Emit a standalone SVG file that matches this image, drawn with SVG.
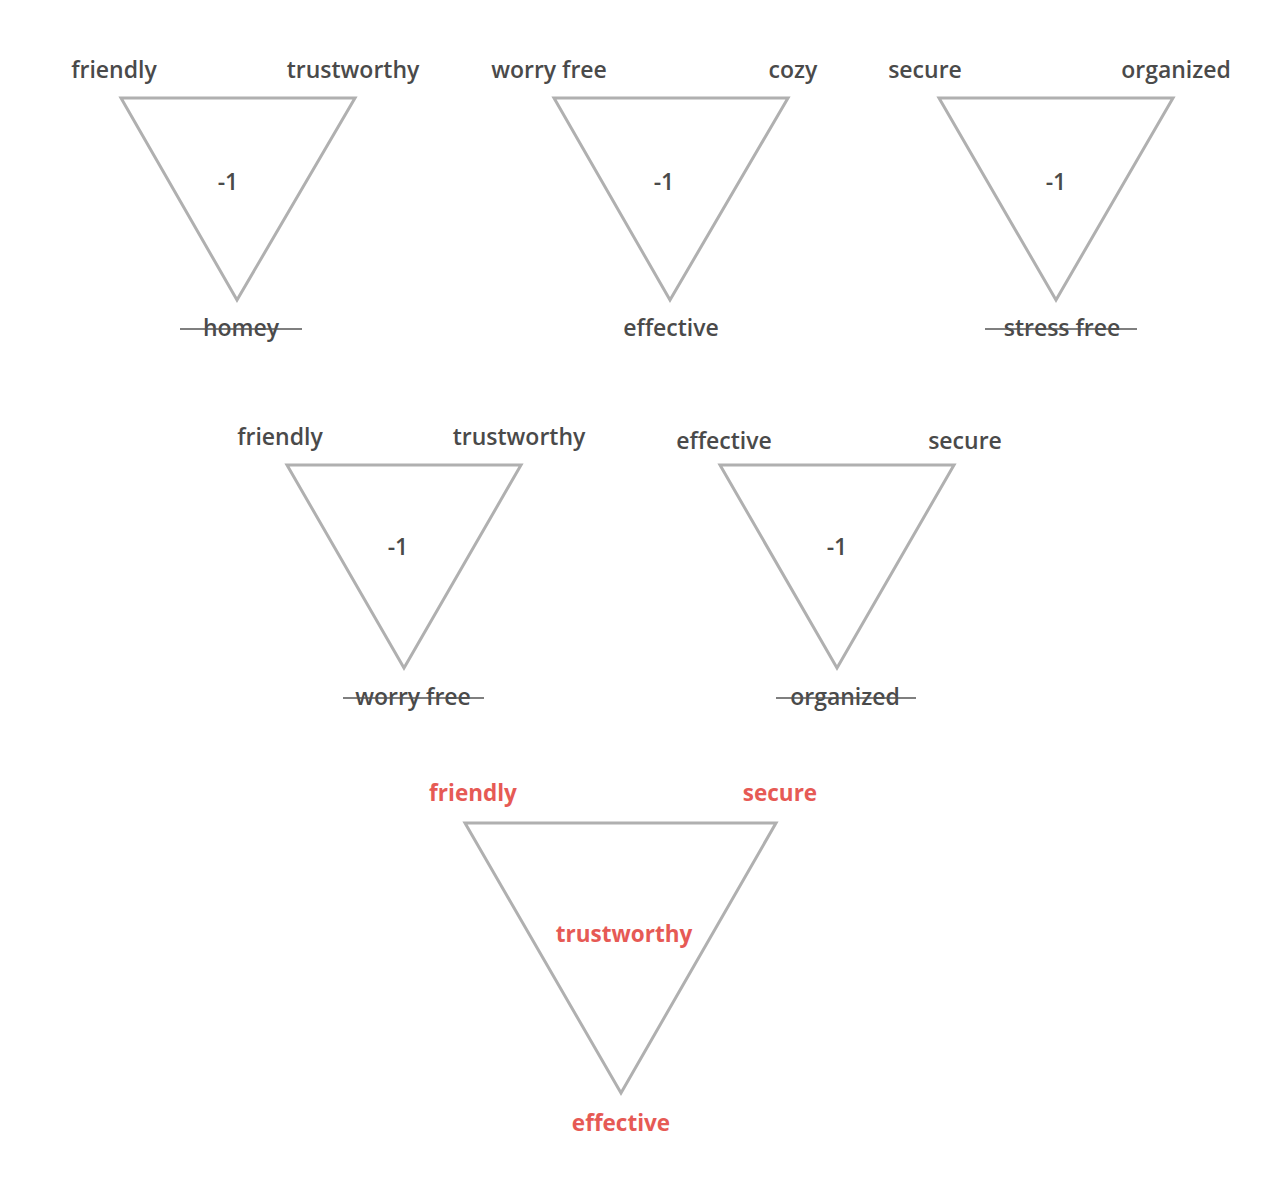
<svg xmlns="http://www.w3.org/2000/svg" width="1288" height="1196" viewBox="0 0 1288 1196">
<style>
.tri{fill:none;stroke:#b0b0b0;stroke-width:3;stroke-linejoin:miter}
.t{font-family:"Open Sans","Noto Sans",sans-serif;font-size:23px;font-weight:600;fill:#4a4a4a;text-anchor:middle}
.r{font-family:"Open Sans","Noto Sans",sans-serif;font-size:22.5px;font-weight:bold;fill:#e65a55;text-anchor:middle}
.s{stroke:#555;stroke-width:1.5}
</style>
<rect width="1288" height="1196" fill="#fff"/>
<g id="n1">
<polygon class="tri" points="121,98 355,98 237,300"/>
<text class="t" x="114" y="78">friendly</text>
<text class="t" x="353" y="78">trustworthy</text>
<text class="t" x="228" y="190">-1</text>
<text class="t" x="241" y="336">homey</text>
<line class="s" x1="180" y1="329" x2="302" y2="329"/>
</g>
<g id="n2">
<polygon class="tri" points="554,98 788,98 670,300"/>
<text class="t" x="549" y="78">worry free</text>
<text class="t" x="793" y="78">cozy</text>
<text class="t" x="664" y="190">-1</text>
<text class="t" x="671" y="336">effective</text>
</g>
<g id="n3">
<polygon class="tri" points="939,98 1173,98 1056,300"/>
<text class="t" x="925" y="78">secure</text>
<text class="t" x="1176" y="78">organized</text>
<text class="t" x="1056" y="190">-1</text>
<text class="t" x="1062" y="336">stress free</text>
<line class="s" x1="985" y1="329" x2="1137" y2="329"/>
</g>
<g id="n4">
<polygon class="tri" points="287,465 521,465 404,668"/>
<text class="t" x="280" y="445">friendly</text>
<text class="t" x="519" y="445">trustworthy</text>
<text class="t" x="398" y="555">-1</text>
<text class="t" x="413" y="705">worry free</text>
<line class="s" x1="343" y1="698" x2="484" y2="698"/>
</g>
<g id="n5">
<polygon class="tri" points="720,465 954,465 837,668"/>
<text class="t" x="724" y="449">effective</text>
<text class="t" x="965" y="449">secure</text>
<text class="t" x="837" y="555">-1</text>
<text class="t" x="845" y="705">organized</text>
<line class="s" x1="776" y1="698" x2="916" y2="698"/>
</g>
<g id="n6">
<polygon class="tri" points="465,823 776,823 621,1093"/>
<text class="r" x="473" y="801">friendly</text>
<text class="r" x="780" y="801">secure</text>
<text class="r" x="624" y="942">trustworthy</text>
<text class="r" x="621" y="1131">effective</text>
</g>
<g id="connectors"/>
</svg>
